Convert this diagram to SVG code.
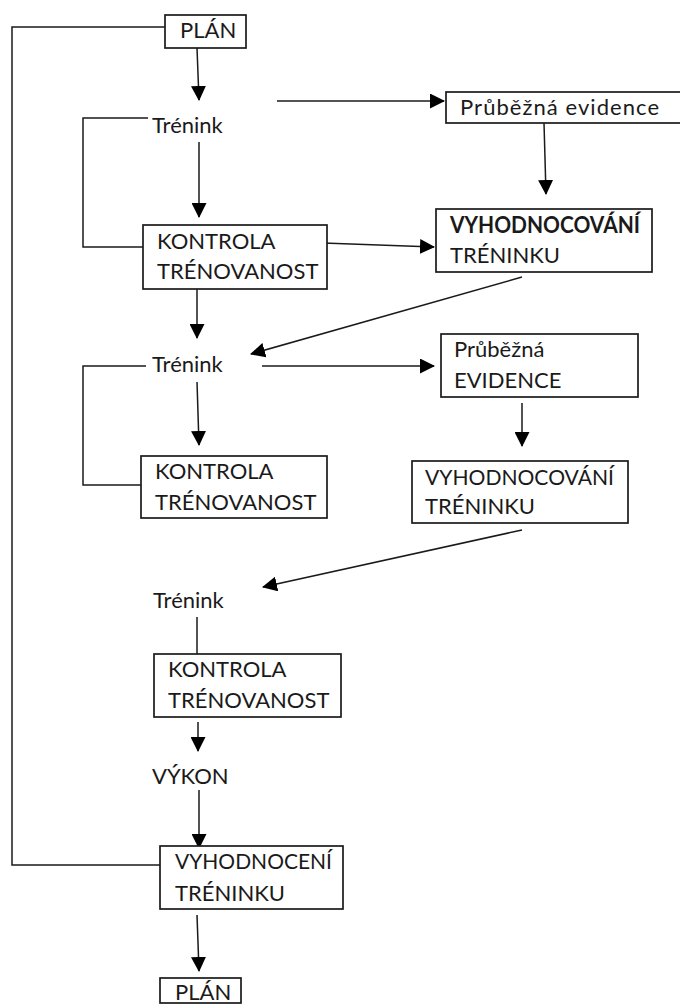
<svg xmlns="http://www.w3.org/2000/svg" width="680" height="1005" viewBox="0 0 680 1005">
<style>
  .box { fill: #fff; stroke: #1a1a1a; stroke-width: 1.7; }
  .t { font-family: Lato, "Liberation Sans", sans-serif; font-size: 22px; fill: #1a1a1a; }
  .b { font-weight: bold; }
  .ln { fill: none; stroke: #1a1a1a; stroke-width: 1.5; }
  .ar { fill: none; stroke: #1a1a1a; stroke-width: 1.5; marker-end: url(#ah); }
</style>
<defs>
  <marker id="ah" markerUnits="userSpaceOnUse" markerWidth="15" markerHeight="15" refX="14" refY="7.5" orient="auto">
    <path d="M0,0 L15,7.5 L0,15 z" fill="#000"/>
  </marker>
</defs>
<rect width="680" height="1005" fill="#fff"/>
<g id="connectors">
  <polyline class="ln" points="165,27 12,27 12,865 163,865"/>
  <line class="ar" x1="197" y1="48" x2="199" y2="100"/>
  <polyline class="ln" points="148,118 83,118 83,247 147,247"/>
  <line class="ar" x1="199" y1="142" x2="199" y2="217"/>
  <line class="ar" x1="277" y1="101" x2="444" y2="101"/>
  <line class="ar" x1="544" y1="123" x2="546" y2="194"/>
  <line class="ar" x1="323" y1="243" x2="434" y2="247"/>
  <line class="ar" x1="522" y1="277" x2="251" y2="354"/>
  <line class="ar" x1="197" y1="278" x2="197" y2="338"/>
  <polyline class="ln" points="146,366 83,366 83,485 147,485"/>
  <line class="ar" x1="197" y1="382" x2="199" y2="445"/>
  <line class="ar" x1="262" y1="366" x2="434" y2="366"/>
  <line class="ar" x1="522" y1="403" x2="522" y2="446"/>
  <line class="ar" x1="522" y1="530" x2="263" y2="587"/>
  <line class="ln" x1="197" y1="617" x2="197" y2="654"/>
  <line class="ar" x1="198" y1="722" x2="198" y2="751"/>
  <line class="ar" x1="199" y1="790" x2="199" y2="848"/>
  <line class="ar" x1="197" y1="915" x2="199" y2="971"/>
</g>
<g id="plan-top">
  <rect class="box" x="165" y="15" width="81" height="33"/>
  <text class="t" x="180" y="38">PLÁN</text>
</g>
<g id="trenink-1">
  <text class="t" x="152" y="133">Trénink</text>
</g>
<g id="prubezna-evidence-1">
  <rect class="box" x="446" y="92" width="240" height="31"/>
  <text class="t" x="460" y="115" textLength="199">Průběžná evidence</text>
</g>
<g id="kontrola-1">
  <rect class="box" x="143" y="225" width="184" height="64"/>
  <text class="t" x="157" y="249">KONTROLA</text>
  <text class="t" x="157" y="279">TRÉNOVANOST</text>
</g>
<g id="vyhodnocovani-1">
  <rect class="box" x="436" y="209" width="216" height="63"/>
  <text class="t b" x="450" y="233" textLength="190" lengthAdjust="spacingAndGlyphs">VYHODNOCOVÁNÍ</text>
  <text class="t" x="450" y="263">TRÉNINKU</text>
</g>
<g id="trenink-2">
  <text class="t" x="152" y="372">Trénink</text>
</g>
<g id="prubezna-evidence-2">
  <rect class="box" x="441" y="334" width="197" height="63"/>
  <text class="t" x="454" y="357">Průběžná</text>
  <text class="t" x="454" y="388">EVIDENCE</text>
</g>
<g id="kontrola-2">
  <rect class="box" x="141" y="456" width="186" height="62"/>
  <text class="t" x="155" y="479">KONTROLA</text>
  <text class="t" x="155" y="510">TRÉNOVANOST</text>
</g>
<g id="vyhodnocovani-2">
  <rect class="box" x="412" y="461" width="216" height="62"/>
  <text class="t" x="425" y="485" textLength="189" lengthAdjust="spacingAndGlyphs">VYHODNOCOVÁNÍ</text>
  <text class="t" x="425" y="514">TRÉNINKU</text>
</g>
<g id="trenink-3">
  <text class="t" x="153" y="608">Trénink</text>
</g>
<g id="kontrola-3">
  <rect class="box" x="154" y="654" width="187" height="63"/>
  <text class="t" x="168" y="677">KONTROLA</text>
  <text class="t" x="168" y="708">TRÉNOVANOST</text>
</g>
<g id="vykon">
  <text class="t" x="152" y="784">VÝKON</text>
</g>
<g id="vyhodnoceni">
  <rect class="box" x="160" y="846" width="183" height="63"/>
  <text class="t" x="175" y="869" textLength="157" lengthAdjust="spacingAndGlyphs">VYHODNOCENÍ</text>
  <text class="t" x="175" y="901">TRÉNINKU</text>
</g>
<g id="plan-bottom">
  <rect class="box" x="160" y="978" width="81" height="25"/>
  <text class="t" x="175" y="1000">PLÁN</text>
</g>
</svg>
